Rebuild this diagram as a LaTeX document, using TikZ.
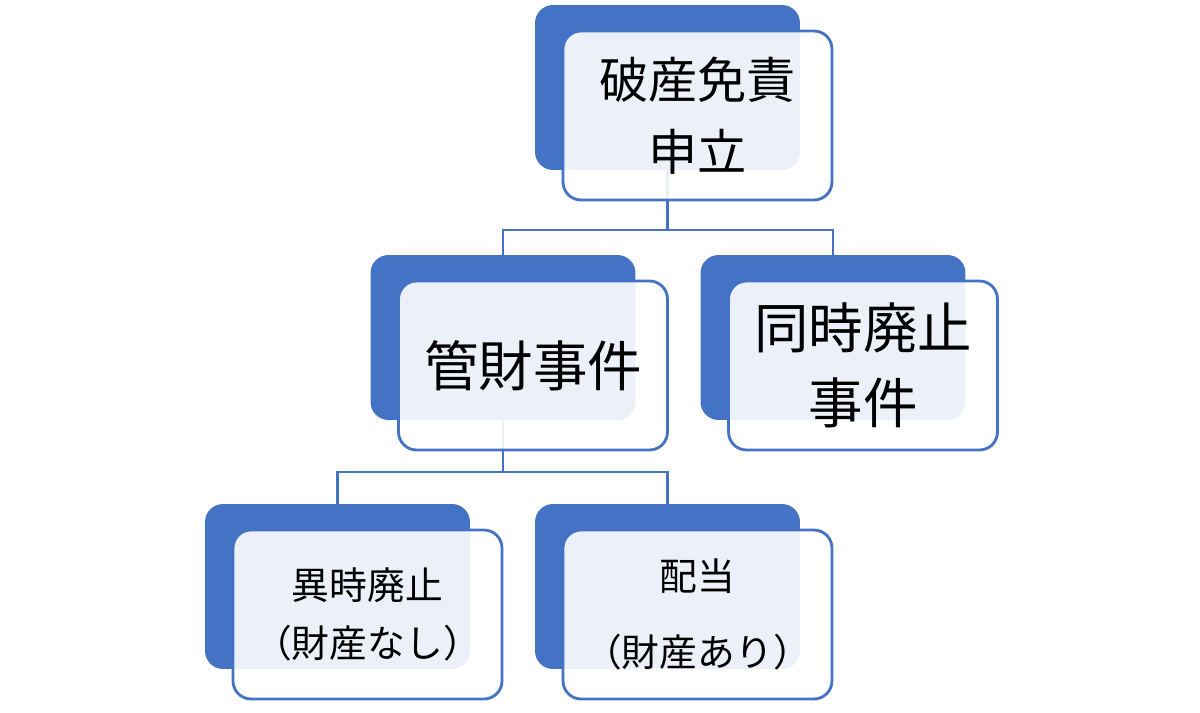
\documentclass[tikz,border=0pt]{standalone}
\usepackage{fontspec}
\setmainfont{Noto Sans CJK JP}
\usetikzlibrary{positioning}
\definecolor{sablue}{HTML}{4472C4}
\tikzset{
  backbox/.style={fill=sablue, rounded corners=0.36cm, minimum width=5.3cm, minimum height=3.3cm, inner sep=0pt},
  frontbox/.style={draw=sablue, line width=1.6pt, fill=white, fill opacity=0.9, text opacity=1, rounded corners=0.36cm, minimum width=5.38cm, minimum height=3.38cm, inner sep=0pt, align=center},
  link/.style={draw=sablue, line width=1.3pt}
}

\begin{document}
\begin{tikzpicture}[x=0.02cm,y=-0.02cm]
  \useasboundingbox (0,0) rectangle (1200,713);
  % back boxes
  \node[backbox] (top-b) at (667.5,87.5) {};
  \node[backbox] (kan-b) at (503,337.5) {};
  \node[backbox] (dou-b) at (833,337.5) {};
  \node[backbox] (iji-b) at (337.5,586.5) {};
  \node[backbox] (hai-b) at (667.5,586.5) {};
  % connectors
  \draw[link] (top-b.south) -- ++(0,60) -| (kan-b.north);
  \draw[link] (top-b.south) -- ++(0,60) -| (dou-b.north);
  \draw[link] (kan-b.south) -- ++(0,52) -| (iji-b.north);
  \draw[link] (kan-b.south) -- ++(0,52) -| (hai-b.north);
  % front boxes
  \node[frontbox, font=\fontsize{28pt}{41pt}\selectfont] (top) at ([shift={(30,28)}]top-b.center) {破産免責\\申立};
  \node[frontbox, font=\fontsize{31pt}{43pt}\selectfont] (kan) at ([shift={(30,28)}]kan-b.center) {管財事件};
  \node[frontbox, font=\fontsize{31pt}{43pt}\selectfont] (dou) at ([shift={(30,28)}]dou-b.center) {同時廃止\\事件};
  \node[frontbox, font=\fontsize{21.5pt}{33pt}\selectfont] (iji) at ([shift={(30,28)}]iji-b.center) {異時廃止\\（財産なし）};
  \node[frontbox, font=\fontsize{21.5pt}{33pt}\selectfont] (hai) at ([shift={(30,28)}]hai-b.center) {配当\\[10pt]（財産あり）};
\end{tikzpicture}
\end{document}
